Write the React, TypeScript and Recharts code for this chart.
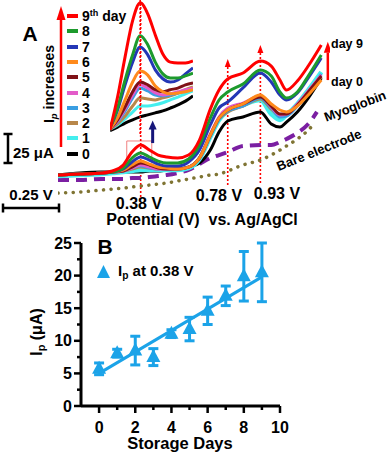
import React from 'react';
import {
  LineChart, Line, XAxis, YAxis, ReferenceLine, ReferenceDot, ReferenceArea,
  ComposedChart, Scatter, ErrorBar
} from 'recharts';

const FONT = '"Liberation Sans", Arial, Helvetica, sans-serif';

// ---- panel A: voltammograms (potential in V, current in µA, offset) ----
const potentials = [0, 0.1, 0.2, 0.25, 0.3, 0.34, 0.38, 0.42, 0.46, 0.5, 0.55, 0.6, 0.65, 0.7, 0.74, 0.78, 0.85, 0.93, 0.98, 1.02, 1.05, 1.1, 1.15, 1.21];

const day0 = [21.6, 23.3, 24.1, 24.1, 24.1, 24.1, 24.1, 25.0, 25.0, 25.9, 26.7, 28.4, 31.9, 43.1, 58.6, 68.1, 71.6, 75.9, 65.5, 62.9, 67.2, 75.9, 87.9, 105.2];
const day1 = [20.7, 21.6, 22.4, 23.3, 24.1, 25.0, 25.9, 25.9, 25.9, 25.9, 25.9, 27.6, 35.3, 54.3, 69.0, 76.7, 81.9, 86.2, 74.1, 69.0, 73.3, 82.8, 94.8, 110.3];
const day2 = [21.6, 22.4, 23.3, 24.1, 25.0, 26.7, 28.4, 27.6, 26.7, 26.7, 26.7, 28.4, 36.2, 55.2, 69.8, 75.9, 81.0, 87.1, 78.4, 72.4, 73.3, 81.9, 92.2, 106.0];
const day3 = [21.6, 22.4, 23.3, 24.1, 25.0, 27.6, 29.3, 27.6, 26.7, 26.7, 26.7, 28.4, 36.2, 55.2, 69.8, 76.7, 81.0, 87.9, 79.3, 71.6, 72.4, 81.0, 92.2, 108.6];
const day4 = [21.6, 22.4, 23.3, 24.1, 25.0, 27.6, 30.2, 28.4, 26.7, 26.7, 26.7, 28.4, 36.2, 56.9, 71.6, 79.3, 83.6, 89.7, 80.2, 73.3, 74.1, 82.8, 94.0, 107.8];
const day5 = [21.6, 22.4, 23.3, 24.1, 25.0, 28.4, 31.9, 30.2, 27.6, 26.7, 26.7, 28.4, 36.2, 56.0, 70.7, 77.6, 82.8, 88.8, 81.0, 74.1, 74.1, 81.9, 93.1, 106.9];
const day6 = [21.6, 22.4, 23.3, 24.1, 25.9, 30.2, 33.6, 31.0, 28.4, 27.6, 26.7, 28.4, 36.2, 56.0, 70.7, 77.6, 82.8, 90.5, 82.8, 77.6, 75.9, 81.0, 90.5, 103.4];
const day7 = [21.6, 22.4, 23.3, 24.1, 26.7, 32.8, 37.1, 34.5, 31.0, 29.3, 29.3, 32.8, 43.1, 64.7, 79.3, 84.5, 96.6, 109.5, 101.7, 90.5, 86.2, 92.2, 105.2, 122.4];
const day8 = [21.6, 22.4, 23.3, 24.1, 27.6, 36.2, 40.5, 37.1, 33.6, 31.9, 31.9, 35.3, 47.4, 70.7, 86.2, 93.1, 100.0, 112.1, 106.9, 93.1, 87.9, 93.1, 106.9, 125.0];
const day9 = [21.6, 22.4, 23.3, 25.0, 30.2, 41.4, 47.4, 43.1, 38.8, 37.1, 36.2, 38.8, 51.7, 78.4, 94.8, 104.3, 109.5, 119.8, 115.5, 103.4, 94.8, 102.6, 115.5, 133.6];

const myoPotentials = [0, 0.1, 0.2, 0.25, 0.3, 0.34, 0.38, 0.42, 0.46, 0.5, 0.55, 0.6, 0.65, 0.7, 0.74, 0.78, 0.85, 0.93, 0.98, 1.02, 1.05, 1.1, 1.15, 1.19];
const myoglobin = [17.2, 17.2, 18.1, 18.1, 18.1, 19.0, 19.0, 19.8, 20.7, 21.6, 23.3, 25.9, 31.0, 36.2, 38.8, 41.4, 46.6, 47.4, 47.4, 50.0, 52.6, 57.8, 65.5, 75.9];
const barePotentials = [0, 0.1, 0.2, 0.25, 0.3, 0.34, 0.38, 0.42, 0.46, 0.5, 0.55, 0.6, 0.65, 0.7, 0.74, 0.78, 0.85, 0.93, 0.98, 1.02, 1.05, 1.1, 1.15, 1.18];
const bare = [6.0, 6.9, 8.6, 9.5, 10.3, 11.2, 12.1, 12.9, 13.8, 14.7, 16.4, 18.1, 19.8, 21.6, 22.4, 25.0, 30.2, 34.5, 38.8, 43.1, 46.6, 52.6, 60.3, 66.4];

// inset: zoom of the 0.38 V peak
const insetPotentials = [0.30, 0.32, 0.34, 0.36, 0.38, 0.40, 0.42, 0.44, 0.46, 0.48, 0.50, 0.52];
const inset0 = [-0.2, 0.7, 1.7, 2.5, 3.2, 3.7, 4.2, 4.7, 5.4, 6.2, 7.1, 8.4];
const inset1 = [0.2, 1.2, 2.7, 4.4, 5.9, 5.9, 6.2, 6.7, 7.4, 8.1, 8.9, 9.6];
const inset2 = [0.2, 1.5, 3.4, 5.9, 7.9, 7.6, 7.4, 7.9, 8.4, 9.1, 9.9, 10.6];
const inset3 = [0.2, 2.0, 4.7, 7.9, 10.3, 9.6, 8.6, 8.4, 8.6, 9.1, 9.6, 10.1];
const inset4 = [0.2, 2.2, 5.2, 8.6, 11.1, 10.3, 9.1, 8.6, 8.9, 9.4, 9.9, 10.3];
const inset5 = [0.2, 2.5, 5.7, 9.4, 11.8, 11.1, 9.9, 9.4, 9.9, 10.3, 11.1, 11.6];
const inset6 = [0.2, 3.0, 7.4, 11.8, 14.5, 13.5, 10.8, 9.4, 8.9, 9.1, 9.4, 9.9];
const inset7 = [0.5, 4.9, 11.1, 16.7, 20.4, 18.5, 14.8, 12.6, 11.8, 12.3, 13.8, 15.3];
const inset8 = [0.5, 5.4, 12.3, 18.5, 23.2, 21.0, 16.7, 13.8, 12.8, 12.8, 13.3, 14.0];
const inset9 = [0, 8.1, 18.0, 26.9, 31.3, 28.6, 23.4, 18.7, 16.7, 16.5, 16.5, 17.0];

const dayNames = ['0', '1', '2', '3', '4', '5', '6', '7', '8', '9'];
const dayColors = ['#000000', '#44eeee', '#b8874a', '#3a9ee2', '#e35bc9', '#7f1116', '#ff8a1c', '#2437b6', '#1d9a2d', '#ff0000'];
const mainCurves = [day0, day1, day2, day3, day4, day5, day6, day7, day8, day9];
const insetCurves = [inset0, inset1, inset2, inset3, inset4, inset5, inset6, inset7, inset8, inset9];

// ---- panel B: peak current vs storage days ----
const days = [0, 1, 2, 3, 4, 5, 6, 7, 8, 9];
const ipValues = [5.7, 8.1, 8.5, 7.5, 11.1, 11.8, 14.6, 16.9, 19.9, 20.5];
const ipErrors = [0.9, 0.6, 2.2, 1.3, 0.6, 1.8, 2.1, 1.5, 3.8, 4.5];
const fitDays = [0, 9];
const fitValues = [5.0, 19.8];
const xTicksB = [0, 1, 2, 3, 4, 5, 6, 7, 8, 9, 10];
const yTicksB = [0, 2.5, 5, 7.5, 10, 12.5, 15, 17.5, 20, 22.5, 25];

const BLUE = '#1ba3e8';

const pts = (xs: number[], ys: number[]) => xs.map((v, k) => ({ v, i: ys[k] }));

const arrowUp = (w: number, h: number, color: string) => (p: any) => (
  <path d={`M${p.cx},${p.cy} L${p.cx - w / 2},${p.cy + h} L${p.cx + w / 2},${p.cy + h} Z`} fill={color} />
);

const MainChart = () => (
  <LineChart width={272} height={220} margin={{ top: 0, right: 0, bottom: 0, left: 0 }}>
    <XAxis type="number" dataKey="v" domain={[0, 1.25]} hide allowDataOverflow />
    <YAxis type="number" dataKey="i" domain={[-17.2, 172.4]} hide allowDataOverflow />
    <ReferenceLine segment={[{ x: 0.38, y: 2.6 }, { x: 0.38, y: 168 }]} stroke="#ff0000" strokeDasharray="2 2" strokeWidth={1.6} />
    <ReferenceLine segment={[{ x: 0.78, y: 12.9 }, { x: 0.78, y: 118 }]} stroke="#ff0000" strokeDasharray="2 2" strokeWidth={1.6} />
    <ReferenceLine segment={[{ x: 0.93, y: 14.7 }, { x: 0.93, y: 130 }]} stroke="#ff0000" strokeDasharray="2 2" strokeWidth={1.6} />
    <ReferenceDot x={0.78} y={121.6} r={0} shape={arrowUp(6, 8, '#ff0000')} />
    <ReferenceDot x={0.93} y={133.6} r={0} shape={arrowUp(6, 8, '#ff0000')} />
    <ReferenceArea x1={0.316} x2={0.431} y1={27.6} y2={50.9} fill="none" stroke="#f08080" strokeWidth={1} />
    <ReferenceLine segment={[{ x: 0.435, y: 49.1 }, { x: 0.435, y: 62 }]} stroke="#16167a" strokeWidth={3} />
    <ReferenceDot x={0.435} y={68.5} r={0} shape={arrowUp(8, 9, '#16167a')} />
    <ReferenceLine segment={[{ x: 1.24, y: 103.4 }, { x: 1.24, y: 127 }]} stroke="#ff0000" strokeWidth={2.5} />
    <ReferenceDot x={1.24} y={136.5} r={0} shape={arrowUp(8, 11, '#ff0000')} />
    <Line data={pts(barePotentials, bare)} dataKey="i" type="monotone" stroke="#7f7433" strokeWidth={3.5}
      strokeDasharray="0.1 7.5" strokeLinecap="round" dot={false} isAnimationActive={false} />
    <Line data={pts(myoPotentials, myoglobin)} dataKey="i" type="monotone" stroke="#7b1fa2" strokeWidth={4}
      strokeDasharray="11 7" dot={false} isAnimationActive={false} />
    {mainCurves.map((c, k) => (
      <Line key={k} data={pts(potentials, c)} dataKey="i" type="monotone" stroke={dayColors[k]}
        strokeWidth={k === 1 ? 4.5 : 3} dot={false} isAnimationActive={false} />
    ))}
  </LineChart>
);

const InsetChart = () => (
  <LineChart width={83} height={134} margin={{ top: 0, right: 0, bottom: 0, left: 0 }}>
    <XAxis type="number" dataKey="v" domain={[0.30, 0.52]} hide allowDataOverflow />
    <YAxis type="number" dataKey="i" domain={[-1, 32]} hide allowDataOverflow />
    {insetCurves.map((c, k) => (
      <Line key={k} data={pts(insetPotentials, c)} dataKey="i" type="monotone" stroke={dayColors[k]}
        strokeWidth={3} dot={false} isAnimationActive={false} />
    ))}
    <ReferenceLine x={0.38} stroke="#ff0000" strokeDasharray="2 2" strokeWidth={1.6} />
  </LineChart>
);

const YTick = ({ x, y, payload }: any) => {
  const major = payload.value % 5 === 0;
  return (
    <g>
      <line x1={x} x2={x - (major ? 7 : 4)} y1={y} y2={y} stroke="#000" strokeWidth={2.5} />
      {major && (
        <text x={x - 9} y={y} dy={5.5} textAnchor="end" fontSize={16} fontWeight={700} fontFamily={FONT} fill="#000">
          {payload.value}
        </text>
      )}
    </g>
  );
};

const XTick = ({ x, y, payload }: any) => {
  const major = payload.value % 2 === 0;
  return (
    <g>
      <line x1={x} x2={x} y1={y} y2={y + (major ? 7 : 4)} stroke="#000" strokeWidth={2.5} />
      {major && (
        <text x={x} y={y + 26.5} textAnchor="middle" fontSize={16} fontWeight={700} fontFamily={FONT} fill="#000">
          {payload.value}
        </text>
      )}
    </g>
  );
};

const triangle = (p: any) => (
  <path d={`M${p.cx},${p.cy - 8} L${p.cx - 7},${p.cy + 5} L${p.cx + 7},${p.cy + 5} Z`} fill={BLUE} />
);

const PanelB = () => {
  const pointData = days.map((d, k) => ({ day: d, ip: ipValues[k], err: ipErrors[k] }));
  const fitData = fitDays.map((d, k) => ({ day: d, ip: fitValues[k] }));
  return (
    <ComposedChart width={300} height={225} margin={{ top: 13, right: 20, bottom: 19, left: 0 }}>
      <XAxis type="number" dataKey="day" domain={[-1, 10]} ticks={xTicksB} interval={0} tick={<XTick />}
        tickSize={0} tickMargin={0} tickLine={false} height={30} allowDataOverflow
        axisLine={{ stroke: '#000', strokeWidth: 3 }} />
      <YAxis type="number" dataKey="ip" domain={[0, 25]} ticks={yTicksB} interval={0} tick={<YTick />}
        tickSize={0} tickMargin={0} tickLine={false} width={81} allowDataOverflow
        axisLine={{ stroke: '#000', strokeWidth: 3 }} />
      <Line data={fitData} dataKey="ip" type="linear" stroke={BLUE} strokeWidth={3} dot={false} isAnimationActive={false} />
      <Scatter data={pointData} dataKey="ip" fill={BLUE} shape={triangle} isAnimationActive={false}>
        <ErrorBar dataKey="err" direction="y" width={5} strokeWidth={3} stroke={BLUE} />
      </Scatter>
    </ComposedChart>
  );
};

const Txt = ({ x, y, size = 16, rot = 0, start = false, children }: any) => (
  <div style={{
    position: 'absolute', left: x, top: y, fontSize: size, fontWeight: 700, fontFamily: FONT,
    whiteSpace: 'pre', lineHeight: 1, color: '#000',
    transform: `translate(${start ? '0' : '-50%'}, -50%) rotate(${rot}deg)`,
  }}>{children}</div>
);

const Sub = ({ children, italic = false }: any) => (
  <span style={{ fontSize: '0.68em', verticalAlign: '-0.3em', fontStyle: italic ? 'italic' : 'normal' }}>{children}</span>
);

const LegendA = () => (
  <>
    {dayNames.map((n, k) => {
      const cy = 16 + (9 - k) * 15.3;
      return (
        <React.Fragment key={n}>
          <div style={{ position: 'absolute', left: 67, top: cy - 2, width: 11, height: 4, background: dayColors[k] }} />
          <Txt x={82} y={cy} size={14} start>
            {k === 9 ? <>9<sup style={{ fontSize: '0.65em', verticalAlign: '0.55em', lineHeight: 0 }}>th</sup> day</> : n}
          </Txt>
        </React.Fragment>
      );
    })}
  </>
);

const Decor = () => (
  <svg width={390} height={455} style={{ position: 'absolute', left: 0, top: 0, pointerEvents: 'none' }}>
    <g stroke="#000" strokeWidth={2.5}>
      <line x1={8} y1={134} x2={8} y2={163} />
      <line x1={3.5} y1={134} x2={12.5} y2={134} />
      <line x1={3.5} y1={163} x2={12.5} y2={163} />
      <line x1={3} y1={208} x2={59} y2={208} />
      <line x1={3} y1={203.5} x2={3} y2={212.5} />
      <line x1={59} y1={203.5} x2={59} y2={212.5} />
    </g>
    <line x1={61} y1={147} x2={61} y2={18} stroke="#ff0000" strokeWidth={2.5} />
    <path d="M61,6 L56.5,20 L65.5,20 Z" fill="#ff0000" />
    <path d="M103.5,265 L97,278 L110,278 Z" fill={BLUE} />
  </svg>
);

export default function App() {
  return (
    <div style={{ position: 'absolute', left: 0, top: 0, width: 390, height: 455, background: '#fff', overflow: 'hidden' }}>
      <div style={{ position: 'absolute', left: 58, top: 0 }}><MainChart /></div>
      <div style={{ position: 'absolute', left: 110, top: 0 }}><InsetChart /></div>
      <div style={{ position: 'absolute', left: 0, top: 230 }}><PanelB /></div>
      <Decor />
      <LegendA />
      <Txt x={50} y={84} size={14} rot={-90}>I<Sub italic>p</Sub> increases</Txt>
      <Txt x={30} y={33} size={21}>A</Txt>
      <Txt x={13} y={152} size={15} start>25 μA</Txt>
      <Txt x={31} y={194} size={15}>0.25 V</Txt>
      <Txt x={139} y={204} size={16}>0.38 V</Txt>
      <Txt x={219} y={196} size={16}>0.78 V</Txt>
      <Txt x={277} y={194} size={16}>0.93 V</Txt>
      <Txt x={202} y={220} size={16}>Potential (V)  vs. Ag/AgCl</Txt>
      <Txt x={347} y={44} size={12.5}>day 9</Txt>
      <Txt x={347} y={82} size={12.5}>day 0</Txt>
      <Txt x={355} y={106} size={13} rot={-21}>Myoglobin</Txt>
      <Txt x={319} y={150} size={13} rot={-22}>Bare electrode</Txt>
      <Txt x={105} y={246} size={21}>B</Txt>
      <Txt x={118} y={272} size={15} start>I<Sub>p</Sub> at 0.38 V</Txt>
      <Txt x={180} y={443} size={16.5}>Storage Days</Txt>
      <Txt x={38} y={332} size={16} rot={-90}>I<Sub>p</Sub> (μA)</Txt>
    </div>
  );
}
